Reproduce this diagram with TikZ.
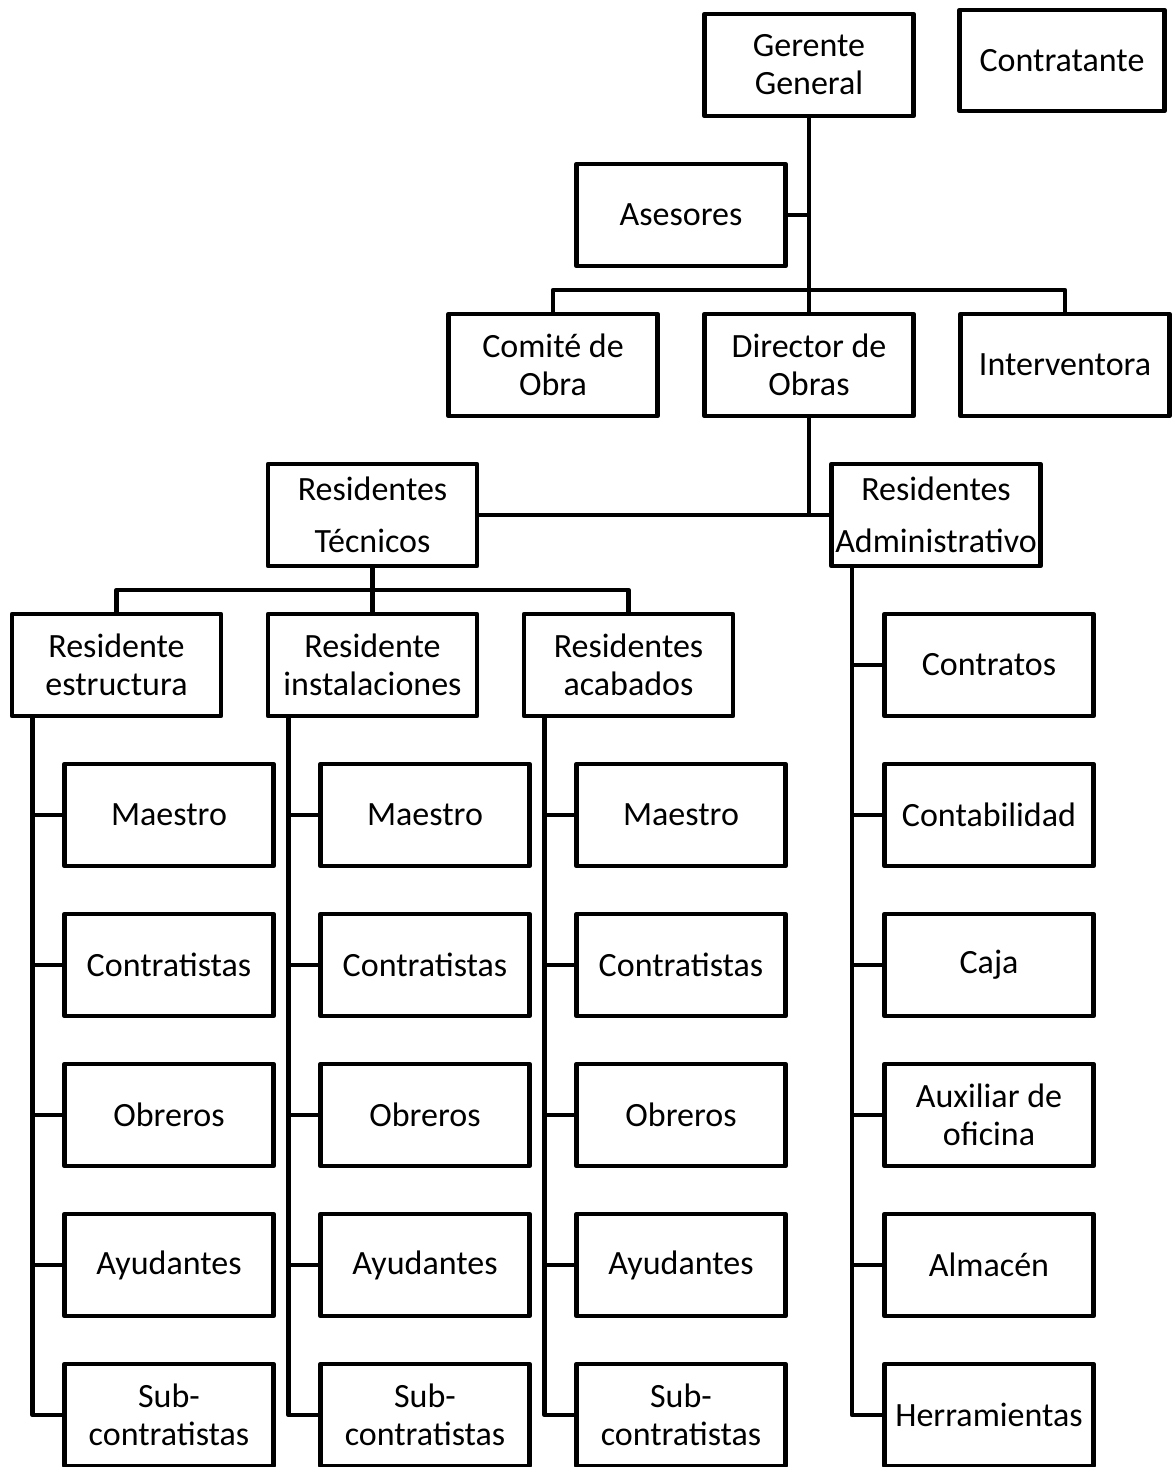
\documentclass[tikz,border=0pt]{standalone}
\usepackage{fontspec}
\setmainfont{Carlito}
\usetikzlibrary{positioning}

\begin{document}
\begin{tikzpicture}[
   x=1pt,y=1pt,
   node distance=48pt and 47pt,
   line width=4.5pt,line join=round,
   box/.style={draw,font=\fontsize{34}{38}\selectfont,align=center,outer sep=0pt,
     minimum width=209pt,minimum height=102pt,inner xsep=0pt,inner ysep=2pt}]
  \useasboundingbox (0,0) rectangle (1172,-1467);
  % top
  \node[box] (gg) at (809,-65) {Gerente\\General};
  \node[box,minimum width=205pt,minimum height=101pt] (contr) at (1062,-60.5) {Contratante};
  \node[box,below=of gg,xshift=-128pt] (ases) {Asesores};
  \node[box,below=of ases,xshift=128pt] (dir) {Director de\\Obras};
  \node[box,left=of dir] (com) {Comité de\\Obra};
  \node[box,right=of dir] (int) {Interventora};
  \draw (gg.south)--(dir.north);
  \draw (ases.east)--(ases.east -| gg.south);
  \draw (com.north)--++(0,24)-|(int.north);
  % residentes
  \node[box] (rt) at (372.5,-515) {Residentes\\[14pt]Técnicos};
  \node[box] (ra) at (936,-515) {Residentes\\[14pt]Administrativo};
  \node[box,below=of rt] (ri) {Residente\\instalaciones};
  \node[box,left=of ri] (re) {Residente\\estructura};
  \node[box,right=of ri] (rac) {Residentes\\acabados};
  \draw (dir.south)--(dir.south |- rt.east);
  \draw (rt.east)--(ra.west);
  \draw (rt.south)--(ri.north);
  \draw (re.north)--++(0,24)-|(rac.north);
  % columnas
  \foreach \r/\s in {re/e,ri/i,rac/a}{
    \node[box,below=of \r,xshift=52.5pt] (\s1) {Maestro};
    \node[box,below=of \s1] (\s2) {Contratistas};
    \node[box,below=of \s2] (\s3) {Obreros};
    \node[box,below=of \s3] (\s4) {Ayudantes};
    \node[box,below=of \s4] (\s5) {Sub-\\contratistas};
    \draw ([xshift=20.5pt]\r.south west) |- (\s5.west);
    \foreach \k in {1,...,4} \draw ([xshift=-32pt]\s\k.west)--(\s\k.west);
  }
  \node[box,below=of ra,xshift=53pt] (d1) {Contratos};
  \node[box,below=of d1] (d2) {Contabilidad};
  \node[box,below=of d2] (d3) {Caja};
  \node[box,below=of d3] (d4) {Auxiliar de\\oficina};
  \node[box,below=of d4] (d5) {Almacén};
  \node[box,below=of d5] (d6) {Herramientas};
  \draw ([xshift=20.5pt]ra.south west) |- (d6.west);
  \foreach \k in {1,...,5} \draw ([xshift=-32pt]d\k.west)--(d\k.west);
\end{tikzpicture}
\end{document}
